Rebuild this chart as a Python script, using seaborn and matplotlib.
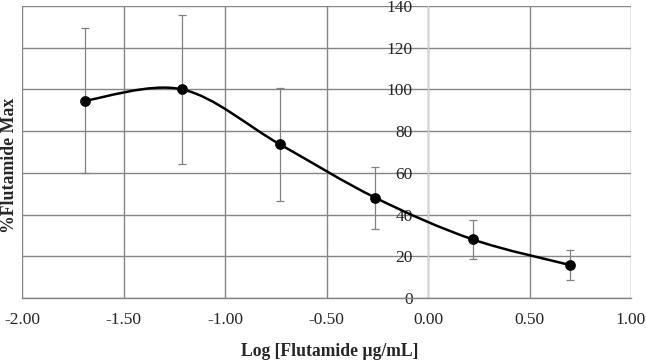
"""
Dose-response curve: %Flutamide Max vs log concentration
"""
import matplotlib
matplotlib.use('Agg')
import matplotlib.pyplot as plt
from matplotlib.path import Path
from matplotlib.patches import PathPatch
from matplotlib.ticker import FormatStrFormatter
import numpy as np
import seaborn as sns

# Data
log_conc = [-1.69, -1.21, -0.73, -0.26, 0.22, 0.70]
pct_max = [94.6, 100.0, 73.7, 48.1, 28.1, 15.8]
pct_err = [34.8, 35.7, 27.0, 14.8, 9.2, 7.1]

x_ticks = [-2.0, -1.5, -1.0, -0.5, 0.0, 0.5, 1.0]
y_ticks = [0, 20, 40, 60, 80, 100, 120, 140]

sns.set_style('white')
plt.rcParams['font.family'] = ['Liberation Serif', 'DejaVu Serif']
plt.rcParams['axes.unicode_minus'] = False


def smooth_path(xs, ys):
    """Excel-style smoothed line: cubic Bezier segments through each point"""
    pts = np.column_stack([xs, ys])
    n = len(pts)
    verts = [tuple(pts[0])]
    codes = [Path.MOVETO]
    for i in range(n - 1):
        p0 = pts[max(i - 1, 0)]
        p1 = pts[i]
        p2 = pts[i + 1]
        p3 = pts[min(i + 2, n - 1)]
        c1 = p1 + (p2 - p0) / 6.0
        c2 = p2 - (p3 - p1) / 6.0
        verts += [tuple(c1), tuple(c2), tuple(p2)]
        codes += [Path.CURVE4] * 3
    return Path(verts, codes)


fig = plt.figure(figsize=(6.46, 3.60), dpi=100)
ax = fig.add_axes([22 / 646, 1 - 298 / 360, 609 / 646, 292 / 360])

# grid
ax.set_axisbelow(True)
ax.grid(True, color='#858585', linewidth=1.0)

# error bars
ax.errorbar(log_conc, pct_max, yerr=pct_err, fmt='none', ecolor='#808080',
            elinewidth=0.9, capsize=3, capthick=0.9, zorder=2)

# smoothed line
ax.add_patch(PathPatch(smooth_path(log_conc, pct_max), facecolor='none',
                       edgecolor='black', linewidth=1.8, zorder=3))

# markers
sns.scatterplot(x=log_conc, y=pct_max, ax=ax, color='black', s=60,
                edgecolor='black', linewidth=0, zorder=4)

ax.set_xlim(-2.0, 1.0)
ax.set_ylim(0, 140)
ax.set_xticks(x_ticks)
ax.set_yticks(y_ticks)
ax.xaxis.set_major_formatter(FormatStrFormatter('%.2f'))

# y axis sits at x = 0
ax.spines['left'].set_position(('data', 0))
ax.spines['left'].set_color('#d4d4d4')
ax.spines['left'].set_linewidth(1.0)
ax.spines['left'].set_zorder(1.5)
for side in ['top', 'right']:
    ax.spines[side].set_visible(False)
ax.spines['bottom'].set_color('#858585')
ax.spines['bottom'].set_linewidth(1.0)

ax.tick_params(axis='y', length=0, pad=11, labelsize=12.5)
ax.tick_params(axis='x', length=0, pad=10, labelsize=12.5)

fig.text(10 / 646, 1 - 165 / 360, '%Flutamide Max', rotation=90,
         ha='center', va='center', fontsize=12.8, fontweight='bold')
fig.text(330 / 646, 1 - 352 / 360, 'Log [Flutamide µg/mL]',
         ha='center', va='center', fontsize=12.7, fontweight='bold')

plt.savefig('out.png', dpi=100)
plt.close()
